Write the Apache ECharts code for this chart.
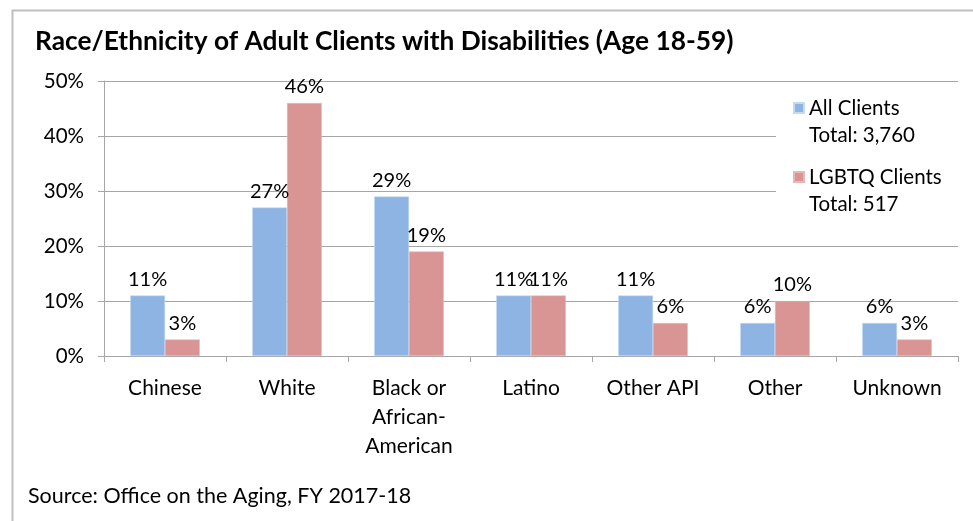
<!DOCTYPE html>
<html>
<head>
<meta charset="utf-8">
<script src="https://cdn.jsdelivr.net/npm/echarts@6/dist/echarts.min.js"></script>
<style>html,body{margin:0;padding:0;background:#fff}#c{width:973px;height:521px}</style>
</head>
<body>
<div id="c"></div>
<script>
const titleText = 'Race/Ethnicity of Adult Clients with Disabilities (Age 18-59)';
const sourceText = 'Source: Office on the Aging, FY 2017-18';
const categories = ['Chinese', 'White', 'Black or\nAfrican-\nAmerican', 'Latino', 'Other API', 'Other', 'Unknown'];
const seriesNames = ['All Clients', 'LGBTQ Clients'];
const legendTotals = ['Total: 3,760', 'Total: 517'];
const allClients = [11, 27, 29, 11, 11, 6, 6];
const lgbtqClients = [3, 46, 19, 11, 6, 10, 3];
const yTicks = [0, 10, 20, 30, 40, 50];

const FONT = 'Lato';
const chart = echarts.init(document.getElementById('c'), null, {renderer: 'canvas'});
const labelCfg = {
  show: true, position: 'top', distance: 6,
  fontFamily: FONT, fontSize: 20, color: '#000',
  formatter: p => p.value + '%'
};
chart.setOption({
  animation: false,
  backgroundColor: '#fff',
  title: {
    text: titleText, left: 30, top: 24,
    textStyle: {fontFamily: FONT, fontWeight: 'bold', fontSize: 26.3, color: '#000'}
  },
  graphic: [
    {type: 'rect', shape: {x: 12.5, y: 10.5, width: 1200, height: 800}, style: {fill: 'none', stroke: '#BFBFBF', lineWidth: 2}, silent: true, z: -1},
    {type: 'text', left: 28, top: 485, style: {text: sourceText, font: '21.5px Lato', fill: '#000'}}
  ],
  legend: {
    orient: 'vertical', left: 776, top: 87,
    backgroundColor: '#fff',
    padding: [6, 40, 6, 17],
    itemWidth: 10, itemHeight: 56, itemGap: 11,
    icon: 'path://M0,9h10v10h-10z M0,0h0.01 M0,56h0.01',
    textStyle: {fontFamily: FONT, fontSize: 20.5, color: '#000', lineHeight: 27},
    formatter: name => name + '\n' + legendTotals[seriesNames.indexOf(name)],
    data: seriesNames
  },
  grid: {left: 104, right: 15, top: 81, bottom: 165, containLabel: false},
  xAxis: {
    type: 'category', data: categories,
    axisLine: {lineStyle: {color: '#A6A6A6', width: 1}},
    axisTick: {show: true, length: 6, lineStyle: {color: '#A6A6A6'}},
    axisLabel: {fontFamily: FONT, fontSize: 21, color: '#000', margin: 18, lineHeight: 29, interval: 0}
  },
  yAxis: {
    type: 'value', min: 0, max: 50, interval: 10,
    axisLine: {show: true, lineStyle: {color: '#A6A6A6'}},
    axisTick: {show: true, length: 6, lineStyle: {color: '#A6A6A6'}},
    splitLine: {lineStyle: {color: '#A6A6A6'}},
    axisLabel: {fontFamily: FONT, fontSize: 20.5, color: '#000', margin: 20,
      formatter: v => yTicks.includes(v) ? v + '%' : ''}
  },
  series: [
    {name: seriesNames[0], type: 'bar', data: allClients, barGap: '0%', barCategoryGap: '43%',
      itemStyle: {color: '#8EB4E3', borderColor: '#C6D9F1', borderWidth: 0.5}, label: labelCfg},
    {name: seriesNames[1], type: 'bar', data: lgbtqClients, barGap: '0%', barCategoryGap: '43%',
      itemStyle: {color: '#D99594', borderColor: '#E6B9B8', borderWidth: 0.5}, label: labelCfg}
  ]
});
</script>
</body>
</html>
